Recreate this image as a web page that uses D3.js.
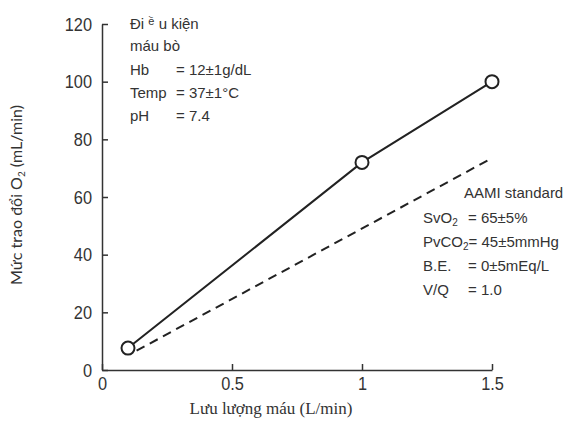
<!DOCTYPE html>
<html><head><meta charset="utf-8">
<script src="https://cdn.jsdelivr.net/npm/d3@7"></script>
<style>
html,body{margin:0;padding:0;background:#fff;}
svg{display:block;}
</style></head>
<body>
<script>
// Data
const flow = [0.1, 1, 1.5];                 // L/min
const o2Transfer = [7.6, 72, 100];          // mL/min (measured)
const aamiFlow = [0.133, 1.5];              // dashed AAMI line
const aamiO2 = [6.7, 73.5];
const xTicks = [0, 0.5, 1, 1.5];
const xTickLabels = ["0", "0.5", "1", "1.5"];
const yTicks = [0, 20, 40, 60, 80, 100, 120];
const condLines = [["Hb", "= 12±1g/dL"], ["Temp", "= 37±1°C"], ["pH", "= 7.4"]];
const aamiLines = [["B.E.", "= 0±5mEq/L"], ["V/Q", "= 1.0"]];

const W = 566, H = 424;
const svg = d3.select("body").append("svg").attr("width", W).attr("height", H);
const x = d3.scaleLinear().domain([0, 1.5]).range([102, 492]);
const y = d3.scaleLinear().domain([0, 120]).range([370, 24]);

const tickFont = "'Liberation Sans',Arial,sans-serif";
const txtFont = "'Liberation Sans',Arial,sans-serif";

// axes
const xAxis = d3.axisBottom(x).tickValues(xTicks).tickFormat((d, i) => xTickLabels[i])
  .tickSizeInner(-6).tickSizeOuter(0).tickPadding(7);
const yAxis = d3.axisLeft(y).tickValues(yTicks).tickFormat(d3.format("d"))
  .tickSizeInner(-6).tickSizeOuter(0).tickPadding(10);

const gx = svg.append("g").attr("transform", `translate(0,${y(0)})`).call(xAxis);
const gy = svg.append("g").attr("transform", `translate(${x(0)},0)`).call(yAxis);
[gx, gy].forEach(g => {
  g.selectAll("path,line").attr("stroke", "#333").attr("stroke-width", 1.5);
  g.selectAll("text").attr("fill", "#333").style("font-family", tickFont).style("font-size", "19px")
    .each(function () {
      const w = this.getComputedTextLength();
      d3.select(this).attr("textLength", w * 0.86).attr("lengthAdjust", "spacingAndGlyphs");
    });
});

// dashed AAMI line
svg.append("path")
  .datum(aamiFlow.map((f, i) => [f, aamiO2[i]]))
  .attr("d", d3.line().x(d => x(d[0])).y(d => y(d[1])))
  .attr("fill", "none").attr("stroke", "#222").attr("stroke-width", 2)
  .attr("stroke-dasharray", "9,6");

// solid line
const pts = flow.map((f, i) => [f, o2Transfer[i]]);
svg.append("path").datum(pts)
  .attr("d", d3.line().x(d => x(d[0])).y(d => y(d[1])))
  .attr("fill", "none").attr("stroke", "#222").attr("stroke-width", 2);
svg.selectAll("circle.pt").data(pts).enter().append("circle")
  .attr("cx", d => x(d[0])).attr("cy", d => y(d[1])).attr("r", 6.5)
  .attr("fill", "#fff").attr("stroke", "#222").attr("stroke-width", 2);

// axis titles
svg.append("text").attr("x", 271).attr("y", 414).attr("text-anchor", "middle")
  .style("font-family", "'Liberation Serif','Times New Roman',serif").style("font-size", "17px")
  .attr("fill", "#333").text("Lưu lượng máu (L/min)");

const yl = svg.append("text").attr("transform", "translate(22,195) rotate(-90)")
  .attr("text-anchor", "middle").style("font-family", "Lato,'Noto Sans',sans-serif")
  .style("font-size", "16px").attr("fill", "#333");
yl.append("tspan").text("Mức trao đổi O");
yl.append("tspan").attr("dy", 3).style("font-size", "10px").text("2");
yl.append("tspan").attr("dy", -3).text("  (mL/min)");

// conditions annotation
const cond = svg.append("g").style("font-family", txtFont).style("font-size", "15px").attr("fill", "#333");
const t1 = cond.append("text").attr("x", 130).attr("y", 29);
t1.append("tspan").text("Đi ");
t1.append("tspan").attr("dy", -4).style("font-size", "11px").text("ề");
t1.append("tspan").attr("dy", 4).text(" u kiện");
cond.append("text").attr("x", 130).attr("y", 51).text("máu bò");
condLines.forEach((r, i) => {
  cond.append("text").attr("x", 130).attr("y", 75 + i * 23).text(r[0]);
  cond.append("text").attr("x", 176).attr("y", 75 + i * 23).text(r[1]);
});

// AAMI annotation
const aa = svg.append("g").style("font-family", txtFont).style("font-size", "15px").attr("fill", "#333");
aa.append("text").attr("x", 464).attr("y", 198).text("AAMI standard");
const s1 = aa.append("text").attr("x", 423).attr("y", 223);
s1.append("tspan").text("SvO");
s1.append("tspan").attr("dy", 3).style("font-size", "10px").text("2");
aa.append("text").attr("x", 468).attr("y", 223).text("= 65±5%");
const s2 = aa.append("text").attr("x", 423).attr("y", 247);
s2.append("tspan").text("PvCO");
s2.append("tspan").attr("dy", 3).style("font-size", "10px").text("2");
s2.append("tspan").attr("dy", -3).text("= 45±5mmHg");
aamiLines.forEach((r, i) => {
  aa.append("text").attr("x", 423).attr("y", 271 + i * 24).text(r[0]);
  aa.append("text").attr("x", 468).attr("y", 271 + i * 24).text(r[1]);
});
</script>
</body></html>
